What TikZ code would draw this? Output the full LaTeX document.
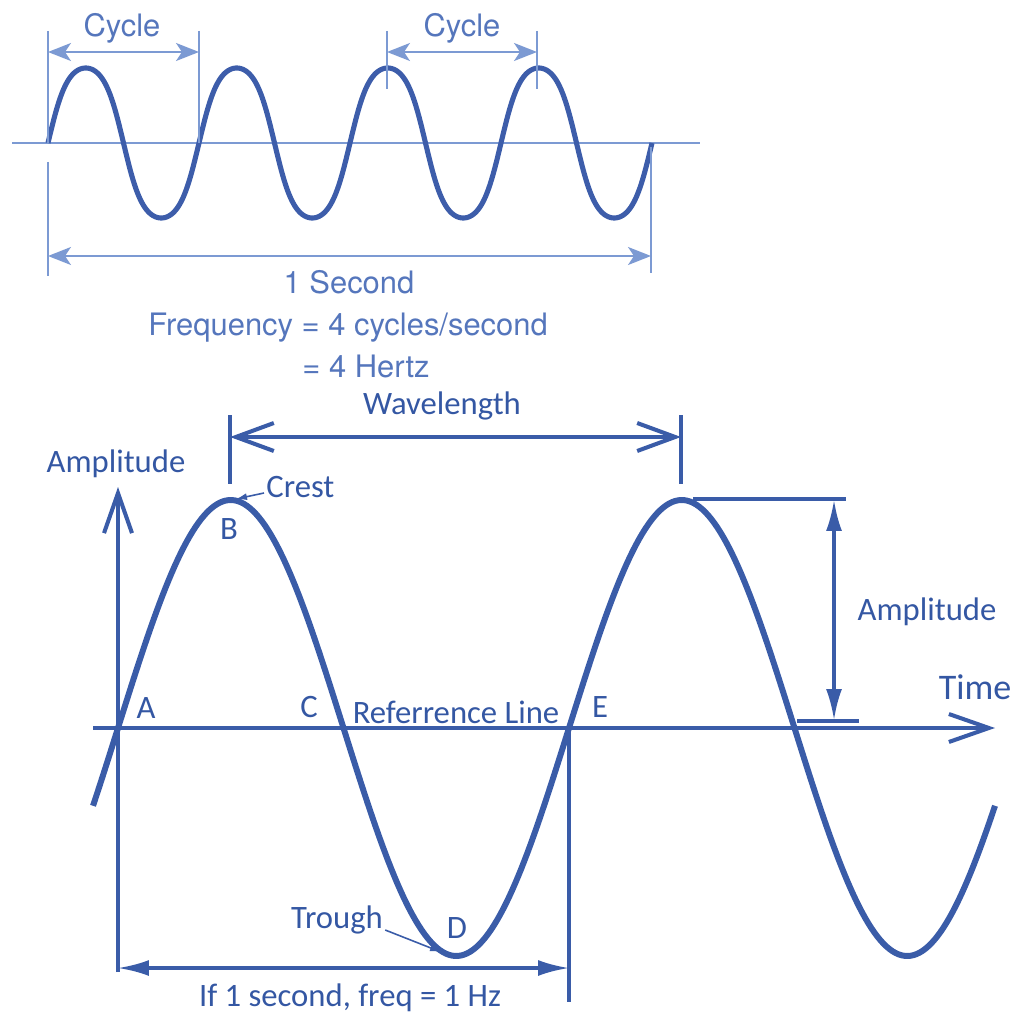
\documentclass[tikz,border=0pt]{standalone}
\usepackage{fontspec}
\setmainfont{Carlito}
\newfontfamily\helv{TeX Gyre Heros}
\usetikzlibrary{arrows.meta}
\definecolor{dk}{HTML}{3A5CA8}
\definecolor{tw}{HTML}{3D5DAA}
\definecolor{lt}{HTML}{7C9AD3}
\definecolor{tx}{HTML}{5576BC}
\definecolor{btx}{HTML}{3457A3}
\tikzset{
  toptext/.style={text=tx, font=\helv\fontsize{17.6}{20}\selectfont, inner sep=0pt},
  bottext/.style={text=btx, font=\fontsize{18.6}{21}\selectfont, inner sep=0pt},
  thinline/.style={draw=lt, line width=1.2pt},
  toparrow/.style={thinline, {Stealth[length=0.46cm,width=0.36cm,inset=0.12cm]}-{Stealth[length=0.46cm,width=0.36cm,inset=0.12cm]}},
  axisline/.style={draw=dk, line width=2.3pt},
  openarrow/.style={axisline, -{Straight Barb[length=0.8cm,width=0.56cm,line width=2.3pt]}},
  fillarrow/.style={draw=dk, line width=1.8pt, {Latex[length=0.62cm,width=0.32cm]}-{Latex[length=0.62cm,width=0.32cm]}},
  pointer/.style={draw=dk, line width=0.9pt, -{Latex[length=0.22cm,width=0.14cm]}}
}
\begin{document}
\begin{tikzpicture}[x=0.02cm,y=-0.02cm]
\useasboundingbox (0,0) rectangle (1017,1013);
% ---------------- top part ----------------
\coordinate (tax0) at (12,143);
\coordinate (tax1) at (700,143);
\draw[thinline] (tax0) -- (tax1);
\draw[tw, line width=2.9pt, line join=round] plot[domain=48:652, samples=400]
  (\x, {143 - 75*tanh(1.05*sin((\x-48)*2.3841))/tanh(1.05)});
% ticks
\coordinate (t1a) at (48,31); \coordinate (t1b) at (48,143);
\coordinate (t1c) at (48,162); \coordinate (t1d) at (48,276);
\coordinate (t2a) at (199,31); \coordinate (t2b) at (199,143);
\coordinate (t3a) at (387,31); \coordinate (t3b) at (387,89);
\coordinate (t4a) at (537,31); \coordinate (t4b) at (537,89);
\coordinate (t5a) at (651,147); \coordinate (t5b) at (651,273);
\draw[thinline] (t1a) -- (t1b);
\draw[thinline] (t1c) -- (t1d);
\draw[thinline] (t2a) -- (t2b);
\draw[thinline] (t3a) -- (t3b);
\draw[thinline] (t4a) -- (t4b);
\draw[thinline] (t5a) -- (t5b);
\coordinate (c1l) at (48,52); \coordinate (c1r) at (199,52);
\coordinate (c2l) at (387,52); \coordinate (c2r) at (537,52);
\coordinate (sl) at (48,256); \coordinate (sr) at (651,256);
\draw[toparrow] (c1l) -- (c1r);
\draw[toparrow] (c2l) -- (c2r);
\draw[toparrow] (sl) -- (sr);
\node[toptext] (cyc1) at (122,28) {Cycle};
\node[toptext] (cyc2) at (462,28) {Cycle};
\node[toptext] (sec) at (349,282) {1 Second};
\node[toptext] (freq) at (348,328) {Frequency = 4 cycles/second};
\node[toptext, anchor=west] (hz) at (302,366) {= 4 Hertz};
% ---------------- bottom part ----------------
\coordinate (ax0) at (93,728);
\coordinate (ax1) at (995,728);
\draw[openarrow] (ax0) -- (ax1);
\coordinate (ay0) at (118,972);
\coordinate (ay1) at (118,487);
\draw[openarrow] (ay0) -- (ay1);
\draw[dk, line width=3.4pt] plot[domain=93:995, samples=300] (\x, {728 - 228*sin((\x-118)*0.79823)});
% wavelength
\coordinate (w1a) at (230,415); \coordinate (w1b) at (230,484);
\coordinate (w2a) at (681,415); \coordinate (w2b) at (681,484);
\draw[axisline] (w1a) -- (w1b);
\draw[axisline] (w2a) -- (w2b);
\coordinate (wl) at (230,437); \coordinate (wr) at (681,437);
\draw[axisline, {Straight Barb[length=0.76cm,width=0.56cm,line width=2.3pt]}-{Straight Barb[length=0.76cm,width=0.56cm,line width=2.3pt]}] (wl) -- (wr);
\node[bottext] (wave) at (442,406) {Wavelength};
% amplitude on the right
\coordinate (h1a) at (693,499); \coordinate (h1b) at (846,499);
\coordinate (h2a) at (797,721); \coordinate (h2b) at (859,721);
\draw[draw=dk, line width=2pt] (h1a) -- (h1b);
\draw[draw=dk, line width=2pt] (h2a) -- (h2b);
\coordinate (amt) at (834,500); \coordinate (amb) at (834,720);
\draw[fillarrow] (amt) -- (amb);
\node[bottext] (ampr) at (927,612) {Amplitude};
\node[bottext, font=\fontsize{20.5}{24}\selectfont] (time) at (975,687) {Time};
\node[bottext] (ampl) at (116,464) {Amplitude};
% labels
\node[bottext] (lA) at (146,708) {A};
\node[bottext] (lB) at (229,529) {B};
\node[bottext] (lC) at (309,707) {C};
\node[bottext] (ref) at (456,712) {Referrence Line};
\node[bottext] (lE) at (600,707) {E};
\node[bottext] (lD) at (457,928) {D};
\node[bottext, anchor=west] (crest) at (266,487) {Crest};
\node[bottext] (trough) at (337,920) {Trough};
\coordinate (crtip) at (236,499);
\coordinate (trtip) at (441,952);
\draw[pointer] (crest.west) ++(-2,6) -- (crtip);
\draw[pointer] (trough.east) ++(2,10) -- (trtip);
% one-second marker
\coordinate (v2a) at (569,728); \coordinate (v2b) at (569,1002);
\draw[axisline] (v2a) -- (v2b);
\coordinate (fl) at (118,968); \coordinate (fr) at (569,968);
\draw[fillarrow] (fl) -- (fr);
\node[bottext] (ifs) at (350,998) {If 1 second, freq = 1 Hz};
\end{tikzpicture}
\end{document}
